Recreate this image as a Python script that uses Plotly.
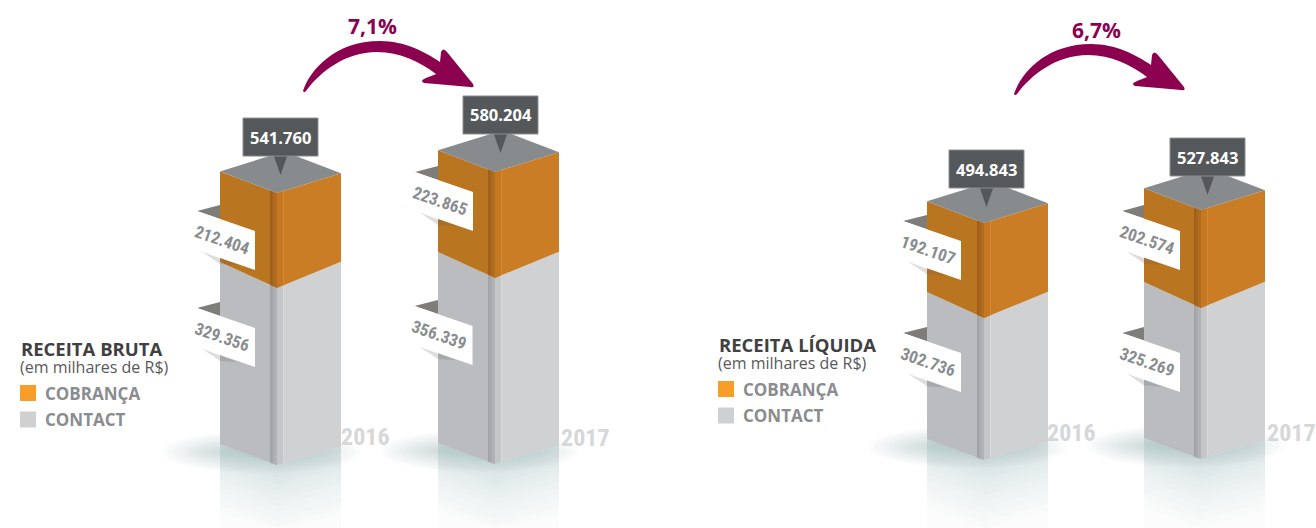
import plotly.graph_objects as go

# ---- data (thousands of R$) ----
panels = ["RECEITA BRUTA", "RECEITA LÍQUIDA"]
subtitle = "(em milhares de R$)"
years = ["2016", "2017", "2016", "2017"]
cobranca = [212.404, 223.865, 192.107, 202.574]
contact = [329.356, 356.339, 302.736, 325.269]
totais = [541.760, 580.204, 494.843, 527.843]
growth = ["7,1%", "6,7%"]
legend_names = ["COBRANÇA", "CONTACT"]

# ---- layout constants of the drawing ----
W, H = 1316, 528
FRONT_X = [277, 495, 984, 1201]
BASE_Y = [465, 464, 460, 459]
K_CONTACT = [0.5374, 0.522, 0.469, 0.464]   # px per unit as drawn in the source
K_COBRANCA = [0.447, 0.4735, 0.4945, 0.484]
HALF_L, HALF_R = 57, 64
TOP_SL, TOP_SR = 0.38, 0.31
MID_SL, MID_SR = 0.456, 0.41
BOT_SL, BOT_SR = 0.37, 0.28
TAG_UP = [(197, 211), (415, 172), (903, 221), (1122, 211)]
TAG_LO = [(197, 308), (414.5, 306), (903, 333), (1122, 333)]
TAG_W, TAG_H, TAG_DY = 58, 39, 20
BOX_X = [243, 463, 949, 1170]
BOX_GAP = [37, 38, 35, 34]
YEAR_POS = [(365, 437), (585, 438), (1071, 433), (1291, 433)]
ARROW_DX = [0, 711]
ARROW_DY = [0, 3]
GROWTH_POS = [(372, 26), (1096, 30)]
LEG_X = [20, 718]
LEG_Y = [348, 344]

ORANGE_L, ORANGE_R = "#b97520", "#cb7d25"
GRAY_L, GRAY_R = "#bbbcbf", "#d0d1d3"
TOP = "#888b8d"
DARK = "#55585a"
TAGTXT = "#8a8d8f"
PURPLE = "#8c0050"
FONT = "Open Sans"
NARROW = "Roboto Condensed, DejaVu Sans Condensed, Roboto"

fig = go.Figure()


def poly(xs, ys, color):
    fig.add_trace(go.Scatter(x=list(xs), y=list(ys), fill="toself", fillcolor=color,
                             mode="lines", line=dict(width=0, color=color),
                             hoverinfo="skip", showlegend=False))


def edge(x, fx, fy, sl, sr):
    return fy - (fx - x) * sl if x <= fx else fy - (x - fx) * sr


def band(x1, x2, fx, ytop, stop, ybot, sbot, color):
    ys = [edge(x1, fx, ytop, *stop), edge(x2, fx, ytop, *stop),
          edge(x2, fx, ybot, *sbot), edge(x1, fx, ybot, *sbot)]
    poly([x1, x2, x2, x1], ys, color)


shapes = []
annots = []


def text(x, y, s, size, color, weight=700, anchor="center", angle=0, family=FONT):
    annots.append(dict(x=x, y=y, xref="x", yref="y", text=s, showarrow=False,
                       xanchor=anchor, yanchor="middle", textangle=angle,
                       font=dict(family=family, size=size, color=color, weight=weight)))


for i in range(4):
    fx, base = FRONT_X[i], BASE_Y[i]
    mid = base - contact[i] * K_CONTACT[i]
    top = mid - cobranca[i] * K_COBRANCA[i]
    xl, xr = fx - HALF_L, fx + HALF_R

    # soft floor shadow
    for j in range(12):
        shapes.append(dict(type="circle", layer="below", xref="x", yref="y",
                           x0=xl - 58 + j * 5, x1=xr + 20 - j * 6,
                           y0=base - 34 + j * 1.6, y1=base + 8 - j * 1.6,
                           fillcolor="rgba(140,170,165,0.035)", line=dict(width=0)))
    # reflection under the bar, densest next to the base
    for j in range(15):
        depth = 2.5 * (j + 1) + 0.2 * j * j if j < 14 else H
        col = "rgba(170,178,178,0.03)" if j < 14 else "rgba(170,172,172,0.03)"
        for a, b in ((xl, fx), (fx, xr)):
            ya, yb = edge(a, fx, base, BOT_SL, BOT_SR), edge(b, fx, base, BOT_SL, BOT_SR)
            poly([a, b, b, a], [ya, yb, min(yb + depth, H), min(ya + depth, H)], col)

    # faces
    band(xl, fx, fx, mid, (MID_SL, MID_SR), base, (BOT_SL, BOT_SR), GRAY_L)
    band(fx, xr, fx, mid, (MID_SL, MID_SR), base, (BOT_SL, BOT_SR), GRAY_R)
    band(xl, fx, fx, top, (TOP_SL, TOP_SR), mid, (MID_SL, MID_SR), ORANGE_L)
    band(fx, xr, fx, top, (TOP_SL, TOP_SR), mid, (MID_SL, MID_SR), ORANGE_R)

    # groove at the front corner
    g_strips = [(-7, -5, "#a3a4a7"), (-5, -3, "#a9aaad"), (-3, 0, "#b1b2b5"),
                (0, 6, "#c5c6c8"), (6, 7, "#d9dadb")]
    o_strips = [(-7, -5, "#a05f1c"), (-5, -3, "#a8651e"), (-3, 0, "#b06c20"),
                (0, 6, "#c5781f"), (6, 7, "#d58a3a")]
    for a, b, c in g_strips:
        band(fx + a, fx + b, fx, mid, (MID_SL, MID_SR), base, (BOT_SL, BOT_SR), c)
    for a, b, c in o_strips:
        band(fx + a, fx + b, fx, top, (TOP_SL, TOP_SR), mid, (MID_SL, MID_SR), c)

    # top face
    yl = top - HALF_L * TOP_SL
    yr = top - HALF_R * TOP_SR
    poly([xl, fx, xr, xl + xr - fx], [yl, top, yr, yl + yr - top], TOP)

    # side tags
    for (tx, ty), val in ((TAG_UP[i], cobranca[i]), (TAG_LO[i], contact[i])):
        s = TAG_DY / TAG_W
        poly([tx, xl, xl], [ty, ty - 6, ty + (xl - tx) * s], "#7f7d79")
        poly([tx + 4, xl + 18, xl],
             [ty + TAG_H + 1, ty + TAG_H + (xl + 18 - tx) * s + 1, ty + TAG_H + (xl - tx) * s + 6],
             "rgba(90,90,90,0.2)")
        poly([tx, tx + TAG_W, tx + TAG_W, tx],
             [ty, ty + TAG_DY, ty + TAG_DY + TAG_H, ty + TAG_H], "#ffffff")
        text(tx + TAG_W / 2 - 4, ty + (TAG_DY + TAG_H) / 2 - 1, f"{val:.3f}", 17, TAGTXT, 700,
             angle=19, family=NARROW)

    # total label with pointer
    bx = BOX_X[i]
    by = top - BOX_GAP[i]
    cx = bx + 37.5
    poly([cx - 7, cx + 7, cx], [by - 1, by - 1, by + 19], DARK)
    shapes.append(dict(type="rect", layer="above", xref="x", yref="y", x0=bx, x1=bx + 75,
                       y0=by - 38, y1=by, fillcolor=DARK, line=dict(width=1, color="#8d8f91")))
    text(cx, by - 19, f"{totais[i]:.3f}", 16.5, "#ffffff", 700)

    # year
    text(YEAR_POS[i][0], YEAR_POS[i][1], years[i], 24, "#d6d7d9", 700, family=NARROW)

# growth arrows and percentages
ARROW = [("M", 303, 91), ("C", 310, 70, 335, 41, 380, 41), ("C", 405, 41, 425, 52, 440, 62),
         ("L", 441, 52), ("Q", 443, 47, 447, 52), ("L", 473, 84), ("Q", 475, 88, 470, 87),
         ("C", 455, 86, 440, 84, 424, 83), ("Q", 420, 81, 424, 79), ("C", 428, 77, 434, 75, 436, 74),
         ("C", 420, 62, 400, 52, 377, 52), ("C", 345, 52, 320, 72, 306, 91), ("Q", 304, 93, 303, 91)]
for p in range(2):
    d = ""
    for seg in ARROW:
        nums = seg[1:]
        pts = [nums[k] + (ARROW_DX[p] if k % 2 == 0 else ARROW_DY[p]) for k in range(len(nums))]
        d += seg[0] + " " + " ".join(str(v) for v in pts) + " "
    shapes.append(dict(type="path", path=d + "Z", xref="x", yref="y", fillcolor=PURPLE,
                       line=dict(width=0), layer="above"))
    text(GROWTH_POS[p][0], GROWTH_POS[p][1], growth[p], 21, PURPLE, 700)

# legends
for p in range(2):
    x0, y0 = LEG_X[p], LEG_Y[p]
    text(x0 - 1, y0, panels[p], 18.5, "#404041", 700, anchor="left")
    text(x0 - 2, y0 + 18.5, subtitle, 16, "#58595b", 400, anchor="left")
    for n, (name, col) in enumerate(zip(legend_names, ["#f99d2a", "#cfd0d2"])):
        yc = y0 + 45 + n * 26.5
        shapes.append(dict(type="rect", xref="x", yref="y", x0=x0, x1=x0 + 16, y0=yc - 8, y1=yc + 8,
                           fillcolor=col, line=dict(width=0)))
        text(x0 + 23, yc, name, 17, TAGTXT, 700, anchor="left")

fig.update_layout(
    width=W, height=H, margin=dict(l=0, r=0, t=0, b=0),
    paper_bgcolor="#ffffff", plot_bgcolor="#ffffff",
    xaxis=dict(range=[0, W], visible=False, fixedrange=True),
    yaxis=dict(range=[H, 0], visible=False, fixedrange=True),
    shapes=shapes, annotations=annots, showlegend=False,
)
fig.write_html("out.html", config=dict(displayModeBar=False),
               post_script="document.body.style.margin='0';document.body.style.overflow='hidden';")
